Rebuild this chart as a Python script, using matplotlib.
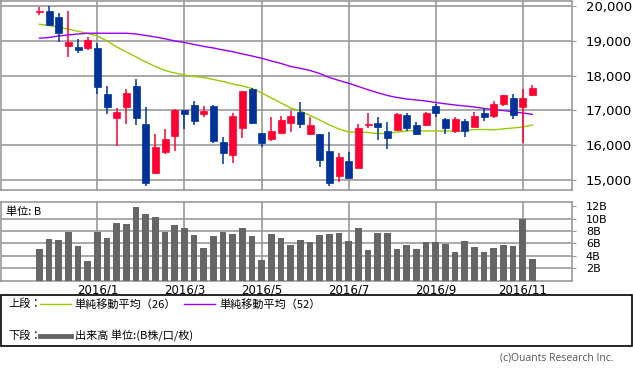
import matplotlib
matplotlib.use('Agg')
import matplotlib.pyplot as plt
from matplotlib.patches import Rectangle
import numpy as np

plt.rcParams['font.family'] = ['DejaVu Sans', 'Noto Sans CJK JP']

# weekly candles (yen)
opens = [19820, 19863, 19691, 18856, 18827, 18799, 18799, 17475, 16784, 17101,
         17705, 16611, 15201, 15806, 16266, 17014, 17158, 16899, 17129, 16093,
         15719, 16496, 17619, 16352, 16180, 16352, 16640, 16957, 16324, 16324,
         15834, 15115, 15547, 15345, 16590, 16640, 16410, 16439, 16870, 16583,
         16583, 17129, 16755, 16410, 16698, 16525, 16928, 16842, 17187, 17360,
         17101, 17446]
highs = [19979, 20007, 19806, 19863, 19058, 19115, 18943, 17705, 17072, 17619,
         17907, 17101, 16324, 16468, 17043, 17020, 17273, 17129, 17158, 16237,
         16928, 17570, 17647, 16360, 16813, 16842, 16986, 17244, 16813, 16330,
         16381, 15777, 15806, 16611, 16928, 16813, 16669, 16928, 16928, 16669,
         16957, 17187, 16784, 16813, 16755, 16957, 17072, 17273, 17460, 17475,
         17619, 17734]
lows = [19748, 19432, 18971, 18540, 18655, 18741, 17475, 16899, 15978, 16611,
        16583, 14827, 15172, 15748, 15834, 16468, 16583, 16813, 16065, 15460,
        15489, 16208, 16611, 15950, 16122, 16340, 16381, 16496, 16295, 15374,
        14827, 14942, 15050, 15340, 16496, 16151, 15892, 16410, 16410, 16295,
        16554, 16813, 16324, 16352, 16237, 16520, 16698, 16784, 17129, 16755,
        16065, 17417]
closes = [19850, 19461, 19230, 18971, 18741, 19029, 17676, 17101, 16957, 17504,
          16784, 14913, 15950, 16180, 17014, 16899, 16698, 16986, 16122, 15777,
          16842, 17561, 16640, 16065, 16410, 16726, 16842, 16611, 16583, 15575,
          14913, 15662, 15057, 16496, 16611, 16525, 16208, 16899, 16496, 16324,
          16928, 16928, 16496, 16755, 16410, 16842, 16813, 17187, 17446, 16870,
          17360, 17647]

ma26 = [19481, 19443, 19394, 19340, 19279, 19216, 19144, 19000, 18827, 18683,
        18540, 18396, 18266, 18151, 18079, 18021, 17978, 17950, 17892, 17834,
        17762, 17705, 17633, 17503, 17360, 17216, 17072, 16985, 16856, 16726,
        16582, 16467, 16381, 16375, 16369, 16338, 16338, 16381, 16410, 16418,
        16410, 16410, 16410, 16410, 16418, 16453, 16453, 16444, 16473, 16496,
        16525, 16582]
ma52 = [19078, 19101, 19144, 19173, 19201, 19222, 19222, 19222, 19222, 19222,
        19201, 19158, 19115, 19063, 19000, 18957, 18899, 18842, 18799, 18741,
        18692, 18626, 18568, 18502, 18424, 18352, 18266, 18214, 18151, 18065,
        17950, 17863, 17783, 17691, 17596, 17509, 17432, 17374, 17331, 17302,
        17273, 17230, 17193, 17158, 17129, 17101, 17057, 17029, 17000, 16962,
        16928, 16890]

# volume, billions of shares
volume = [5.1, 6.7, 6.6, 7.85, 5.6, 3.1, 7.85, 6.9, 9.3, 9.15,
          11.9, 10.75, 10.3, 7.85, 9.0, 8.5, 7.4, 5.3, 7.2, 7.85,
          7.5, 8.5, 7.2, 3.35, 7.5, 6.9, 5.75, 6.6, 6.25, 7.4,
          7.5, 7.7, 6.4, 8.5, 4.95, 7.7, 7.7, 5.1, 5.75, 5.1,
          6.25, 6.25, 5.9, 4.6, 6.4, 5.4, 4.6, 5.2, 5.75, 5.6,
          9.9, 3.5]

month_idx = [6, 15, 23, 32, 41, 50]
month_labels = ['2016/1', '2016/3', '2016/5', '2016/7', '2016/9', '2016/11']
price_ticks = [15000, 16000, 17000, 18000, 19000, 20000]
vol_ticks = [2, 4, 6, 8, 10, 12]

UP = '#ff0033'
DOWN = '#003399'
GRID = '#999999'

W, H = 633, 368
fig = plt.figure(figsize=(W / 100, H / 100), dpi=100)


def px_axes(x0, y0, x1, y1):
    # pixel box (top-left origin) -> figure axes
    return fig.add_axes([x0 / W, 1 - y1 / H, (x1 - x0) / W, (y1 - y0) / H])


x = np.arange(len(opens))
xlim = (-4.03, 55.1)

# --- price panel ---
ax = px_axes(0.5, 1, 572, 190)
for yv in price_ticks:
    ax.axhline(yv, color=GRID, lw=1.2, zorder=0)
for mi in month_idx:
    ax.axvline(mi, color=GRID, lw=1.2, zorder=0)

for i in x:
    o, h, l, c = opens[i], highs[i], lows[i], closes[i]
    col = UP if c >= o else DOWN
    ax.vlines(i, l, h, color=col, lw=1.1, zorder=3)
    bot, top = min(o, c), max(o, c)
    hgt = max(top - bot, 12)
    ax.add_patch(Rectangle((i - 0.36, bot), 0.72, hgt, facecolor=col,
                           edgecolor=col, lw=0.5, zorder=4))

ax.plot(x, ma26, color='#99cc00', lw=1.0, zorder=2)
ax.plot(x, ma52, color='#9900ff', lw=1.0, zorder=2)

ax.set_xlim(*xlim)
ax.set_ylim(14713, 20150)
ax.set_xticks([])
ax.yaxis.tick_right()
ax.set_yticks(price_ticks)
ax.set_yticklabels([f'{v:,}' for v in price_ticks], fontsize=9.5)
ax.tick_params(axis='y', length=3, color=GRID, pad=7)
for s in ax.spines.values():
    s.set_color(GRID)
    s.set_linewidth(1.2)

# --- volume panel ---
av = px_axes(0.5, 202, 572, 280.5)
for yv in vol_ticks[:-1]:
    av.axhline(yv, color=GRID, lw=1.2, zorder=0)
for mi in month_idx:
    av.axvline(mi, color=GRID, lw=1.2, zorder=0)
av.bar(x, volume, width=0.7, color='#666666', zorder=3)
av.set_xlim(*xlim)
av.set_ylim(0, 12.7)
av.yaxis.tick_right()
av.set_yticks(vol_ticks)
av.set_yticklabels([f'{v}B' for v in vol_ticks], fontsize=8)
av.tick_params(axis='y', length=3, color=GRID, pad=7)
av.set_xticks(month_idx)
av.set_xticklabels(month_labels, fontsize=8.5)
av.tick_params(axis='x', length=0, pad=2)
for s in av.spines.values():
    s.set_color(GRID)
    s.set_linewidth(1.2)
av.text(6 / 572, 0.88, '単位: B', transform=av.transAxes, fontsize=8,
        va='center', ha='left', family=['Noto Sans CJK JP', 'DejaVu Sans'])

# --- legend box ---
jp = ['Noto Sans CJK JP', 'DejaVu Sans']
fig.patches.append(Rectangle((0.5 / W, 1 - 346 / H), 631.5 / W, 51 / H,
                             transform=fig.transFigure, fill=False,
                             edgecolor='black', lw=1.2))


def fx(px):
    return px / W


def fy(py):
    return 1 - py / H


fig.text(fx(8), fy(304), '上段：', fontsize=8, va='center', family=jp)
fig.add_artist(plt.Line2D([fx(40), fx(71)], [fy(304), fy(304)],
                          color='#99cc00', lw=1.0, transform=fig.transFigure))
fig.text(fx(74), fy(304), '単純移動平均（26）', fontsize=8, va='center', family=jp)
fig.add_artist(plt.Line2D([fx(184), fx(215)], [fy(304), fy(304)],
                          color='#9900ff', lw=1.0, transform=fig.transFigure))
fig.text(fx(219), fy(304), '単純移動平均（52）', fontsize=8, va='center', family=jp)

fig.text(fx(8), fy(336), '下段：', fontsize=8, va='center', family=jp)
fig.add_artist(plt.Line2D([fx(40), fx(71)], [fy(336), fy(336)],
                          color='#666666', lw=3.5, transform=fig.transFigure))
fig.text(fx(75), fy(336), '出来高 単位:(B株/口/枚)', fontsize=8, va='center', family=jp)

fig.text(fx(614), fy(358), '(c)Ouants Research Inc.', fontsize=7.5,
         ha='right', va='center', color='#555555', family=['Open Sans', 'DejaVu Sans'])

fig.savefig('out.png', dpi=100)
